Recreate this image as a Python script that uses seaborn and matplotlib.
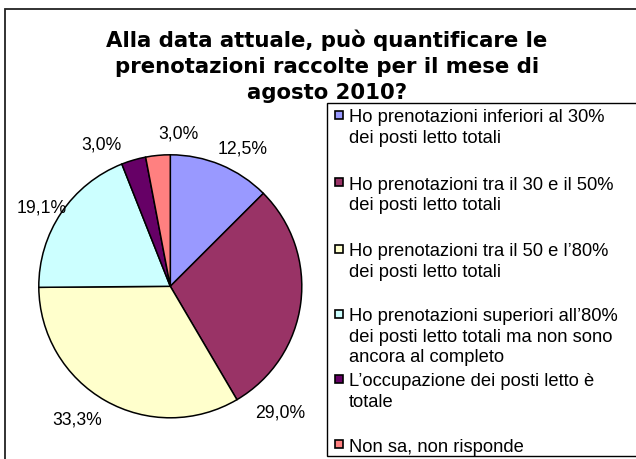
import matplotlib
matplotlib.use("Agg")
import matplotlib.pyplot as plt
from matplotlib.patches import Rectangle
import seaborn as sns

# ---- data ----
title = "Alla data attuale, può quantificare le\nprenotazioni raccolte per il mese di\nagosto 2010?"
categories = [
    "Ho prenotazioni inferiori al 30%\ndei posti letto totali",
    "Ho prenotazioni tra il 30 e il 50%\ndei posti letto totali",
    "Ho prenotazioni tra il 50 e l\u201980%\ndei posti letto totali",
    "Ho prenotazioni superiori all\u201980%\ndei posti letto totali ma non sono\nancora al completo",
    "L\u2019occupazione dei posti letto è\ntotale",
    "Non sa, non risponde",
]
values = [12.5, 29.0, 33.3, 19.1, 3.0, 3.0]
value_labels = ["12,5%", "29,0%", "33,3%", "19,1%", "3,0%", "3,0%"]
colors = ["#9999FF", "#993366", "#FFFFCC", "#CCFFFF", "#660066", "#FF8080"]

# ---- layout (pixels) ----
W, H = 636, 459
# label positions (in pie-radius units, relative to pie centre)
label_pos = [(0.551, 1.046), (0.833, -0.962), (-0.707, -1.015),
             (-0.977, 0.597), (-0.521, 1.076), (0.065, 1.160)]
legend_tops = [109, 176.5, 243, 308, 373, 438.5]

sns.set_theme(style="white")
plt.rcParams["font.family"] = ["Liberation Sans", "DejaVu Sans"]

fig = plt.figure(figsize=(W / 100, H / 100), dpi=100)
fig.patch.set_facecolor("white")

def fx(x):
    return x / W

def fy(y):
    return 1 - y / H

# outer frame
fig.patches.append(Rectangle((fx(5), fy(470)), fx(650) - fx(5), fy(9) - fy(470),
                             transform=fig.transFigure, fill=False,
                             edgecolor="#222222", linewidth=1.3, zorder=0))

# pie
cx, cy, R = 170.3, 286.3, 131.5
half = 150
ax = fig.add_axes([fx(cx - half), fy(cy + half), 2 * half / W, 2 * half / H])
wedges, _ = ax.pie(values, colors=colors, startangle=90, counterclock=False,
                   wedgeprops=dict(edgecolor="black", linewidth=1.1))
lim = half / R
ax.set_xlim(-lim, lim)
ax.set_ylim(-lim, lim)
ax.axis("off")
for (lx, ly), txt in zip(label_pos, value_labels):
    ax.text(lx, ly, txt, ha="center", va="center", fontsize=12.7, color="black")

# title
fig.text(fx(327), fy(29.5), title, ha="center", va="top",
         fontsize=15.3, fontweight="bold", family="DejaVu Sans",
         linespacing=1.36, color="black")

# legend box
fig.patches.append(Rectangle((fx(327), fy(456)), fx(650) - fx(327), fy(103) - fy(456),
                             transform=fig.transFigure, facecolor="white",
                             edgecolor="black", linewidth=1.0, zorder=1))
msz = 8
for top, lab, col in zip(legend_tops, categories, colors):
    mcx, mcy = 338.5, top + 5.5
    fig.patches.append(Rectangle((fx(mcx - msz / 2), fy(mcy + msz / 2)), msz / W, msz / H,
                                 transform=fig.transFigure, facecolor=col,
                                 edgecolor="black", linewidth=1.2, zorder=2))
    fig.text(fx(349), fy(top), lab, ha="left", va="top", fontsize=13.2,
             linespacing=1.27, color="black", zorder=3)

fig.savefig("out.png", dpi=100, facecolor="white")
